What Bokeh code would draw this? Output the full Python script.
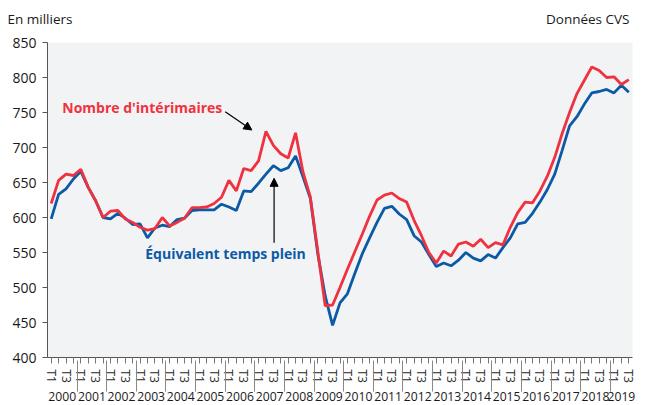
from bokeh.plotting import figure
from bokeh.layouts import column
from bokeh.models import FactorRange, Range1d, Label, Arrow, NormalHead, FixedTicker
from bokeh.core.properties import value
from bokeh.embed import file_html
from bokeh.resources import INLINE

# ---------------- data ----------------
years = [str(y) for y in range(2000, 2020)]
quarter_labels = ["T1", " ", "T3", "  "]   # T2 / T4 are not labelled on the axis

interimaires = [620, 653, 662, 660, 669, 643, 624, 600, 609, 610,
                598, 593, 586, 582, 584, 600, 588, 593, 599, 614,
                614, 615, 620, 629, 653, 638, 670, 667, 681, 723,
                703, 691, 685, 721, 665, 629, 552, 474, 475, 500,
                526, 551, 576, 602, 625, 632, 635, 627, 622, 596,
                574, 550, 535, 552, 545, 562, 565, 559, 569, 557,
                564, 561, 586, 607, 622, 621, 638, 659, 686, 720,
                750, 777, 796, 815, 810, 800, 801, 790, 797]

etp = [598, 633, 641, 655, 666, 643, 624, 600, 598, 606,
       599, 590, 591, 571, 585, 589, 587, 597, 599, 610,
       611, 611, 611, 619, 615, 610, 638, 637, 649, 662,
       674, 667, 671, 688, 658, 627, 548, 488, 446, 478,
       491, 520, 548, 571, 593, 613, 616, 605, 597, 574,
       565, 547, 530, 535, 531, 539, 550, 542, 538, 547,
       542, 557, 571, 591, 593, 606, 622, 640, 662, 696,
       731, 744, 762, 778, 780, 783, 778, 789, 779]

y_ticks = [400, 450, 500, 550, 600, 650, 700, 750, 800, 850]

FONT = "Open Sans"
RED = "#f0323f"
BLUE = "#0b5aa6"

# ---------------- header (unit / source line) ----------------
hdr = figure(width=640, height=30, x_range=Range1d(0, 640), y_range=Range1d(0, 30),
             output_backend="svg", toolbar_location=None,
             x_axis_location=None, y_axis_location=None, min_border=0)
hdr.frame_align = False
hdr.outline_line_color = None
hdr.grid.visible = False
hdr.text(x=[7], y=[12], text=["En milliers"], text_font=value(FONT),
         text_font_size="13.5px", text_color="#1a1a1a",
         text_align="left", text_baseline="middle")
hdr.text(x=[629], y=[12], text=["Données CVS"], text_font=value(FONT),
         text_font_size="13.5px", text_color="#1a1a1a",
         text_align="right", text_baseline="middle")

# ---------------- main chart ----------------
factors = [(years[k // 4], quarter_labels[k % 4]) for k in range(len(interimaires))]
x_range = FactorRange(*factors, factor_padding=0, subgroup_padding=0,
                      group_padding=0, range_padding=0)

p = figure(width=640, height=375, x_range=x_range, y_range=Range1d(400, 850),
           output_backend="svg", toolbar_location=None,
           min_border_left=47, min_border_right=8, min_border_top=12, min_border_bottom=48)
p.frame_align = False

p.background_fill_color = "#f2f3f5"
p.border_fill_color = "white"
p.outline_line_color = None
p.xgrid.grid_line_color = None
p.ygrid.grid_line_color = None

# y axis
p.yaxis.ticker = FixedTicker(ticks=y_ticks)
p.yaxis.minor_tick_line_color = None
p.yaxis.major_tick_in = 0
p.yaxis.major_tick_out = 5
p.yaxis.axis_line_color = "#555555"
p.yaxis.major_tick_line_color = "#555555"
p.yaxis.major_label_text_font = FONT
p.yaxis.major_label_text_font_size = "14px"
p.yaxis.major_label_text_color = "#1a1a1a"
p.yaxis.major_label_standoff = 6

# x axis
xa = p.xaxis[0]
xa.major_label_orientation = "vertical"
xa.major_label_text_font = FONT
xa.major_label_text_font_size = "12px"
xa.major_label_text_color = "#2a2a2a"
xa.major_label_standoff = 6
xa.major_tick_in = 0
xa.major_tick_out = 6
xa.major_tick_line_color = "#777777"
xa.axis_line_color = "#555555"
xa.group_text_font = FONT
xa.group_text_font_size = "12.2px"
xa.group_text_font_style = "normal"
xa.group_text_color = "#1a1a1a"
xa.separator_line_color = "#888888"
xa.separator_line_width = 1

# lines
p.line(x=factors, y=etp, line_color=BLUE, line_width=2.8)
p.line(x=factors, y=interimaires, line_color=RED, line_width=2.8)

# annotations
p.add_layout(Label(x=2.0, y=757, text="Nombre d'intérimaires", text_font=FONT,
                   text_font_size="14px", text_font_style="bold", text_color=RED,
                   text_align="left", text_baseline="middle"))
p.add_layout(Arrow(x_start=24.0, y_start=751, x_end=27.6, y_end=725,
                   line_color="black", line_width=1.2,
                   end=NormalHead(size=8, fill_color="black", line_color="black")))

p.add_layout(Label(x=13.2, y=549, text="Équivalent temps plein", text_font=FONT,
                   text_font_size="14px", text_font_style="bold", text_color=BLUE,
                   text_align="left", text_baseline="middle"))
p.add_layout(Arrow(x_start=30.6, y_start=564, x_end=30.6, y_end=656,
                   line_color="black", line_width=1.2,
                   end=NormalHead(size=8, fill_color="black", line_color="black")))

layout = column(hdr, p, spacing=0)
open("out.html", "w").write(file_html(layout, INLINE))
